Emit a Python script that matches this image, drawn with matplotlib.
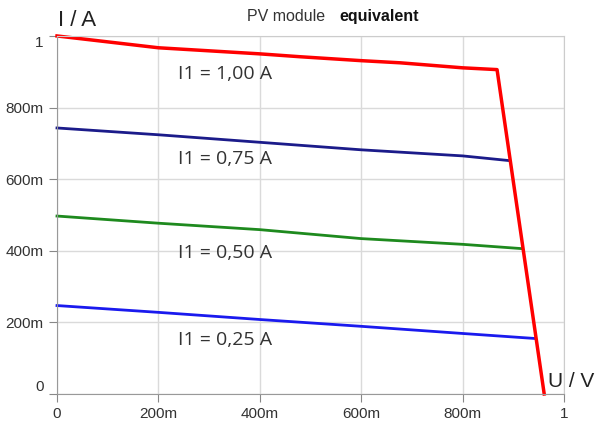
import matplotlib.pyplot as plt

# I-U curves of the PV module equivalent
u_red = [0, 0.2, 0.4, 0.479, 0.6, 0.677, 0.8, 0.868, 0.961]
i_red = [1.0, 0.967, 0.95, 0.942, 0.931, 0.925, 0.911, 0.906, 0.0]

u_075 = [0, 0.2, 0.4, 0.6, 0.8, 0.891]
i_075 = [0.743, 0.724, 0.703, 0.682, 0.665, 0.652]

u_050 = [0, 0.2, 0.4, 0.6, 0.8, 0.917]
i_050 = [0.497, 0.477, 0.459, 0.434, 0.418, 0.406]

u_025 = [0, 0.2, 0.4, 0.6, 0.8, 0.943]
i_025 = [0.247, 0.228, 0.208, 0.189, 0.169, 0.155]

labels = ['I1 = 1,00 A', 'I1 = 0,75 A', 'I1 = 0,50 A', 'I1 = 0,25 A']
label_y = [0.895, 0.655, 0.395, 0.15]

ticks = [0, 0.2, 0.4, 0.6, 0.8, 1.0]
tick_labels = ['0', '200m', '400m', '600m', '800m', '1']

plt.rcParams['font.family'] = ['Liberation Sans', 'DejaVu Sans']

fig = plt.figure(figsize=(5.98, 4.23), dpi=100)
ax = fig.add_axes([0.0953, 0.0686, 0.9431 - 0.0953, 0.915 - 0.0686])

ax.plot(u_075, i_075, color='#1b1b8a', lw=2.0, clip_on=False)
ax.plot(u_050, i_050, color='#1e8a1e', lw=2.0, clip_on=False)
ax.plot(u_025, i_025, color='#1a1aee', lw=2.0, clip_on=False)
ax.plot(u_red, i_red, color='#ff0000', lw=2.5, clip_on=False)

for txt, y in zip(labels, label_y):
    ax.text(0.239, y, txt, fontsize=14, color='#333333', va='center',
            family=['Open Sans', 'DejaVu Sans'])

ax.set_xlim(0, 1)
ax.set_ylim(0, 1)
ax.set_xticks(ticks)
ax.set_yticks(ticks)
ax.set_xticklabels(tick_labels)
ax.set_yticklabels(tick_labels)
ax.tick_params(colors='#888888', labelcolor='#333333', labelsize=11, length=6)
ylabs = ax.get_yticklabels()
ylabs[0].set_va('bottom')
ylabs[-1].set_va('top')

ax.grid(True, color='#dadada', lw=1)
for side in ['top', 'right']:
    ax.spines[side].set_color('#cccccc')
for side in ['left', 'bottom']:
    ax.spines[side].set_color('#999999')

fig.text(0.097, 0.952, 'I / A', fontsize=16, color='#222222', va='center')
fig.text(0.916, 0.097, 'U / V', fontsize=15, color='#222222', va='center')
fig.text(0.413, 0.960, 'PV module', fontsize=11.5, color='#333333', va='center')
fig.text(0.567, 0.960, 'equivalent', fontsize=11.5, fontweight='bold',
         color='#111111', va='center')

fig.savefig('out.png', dpi=100)
